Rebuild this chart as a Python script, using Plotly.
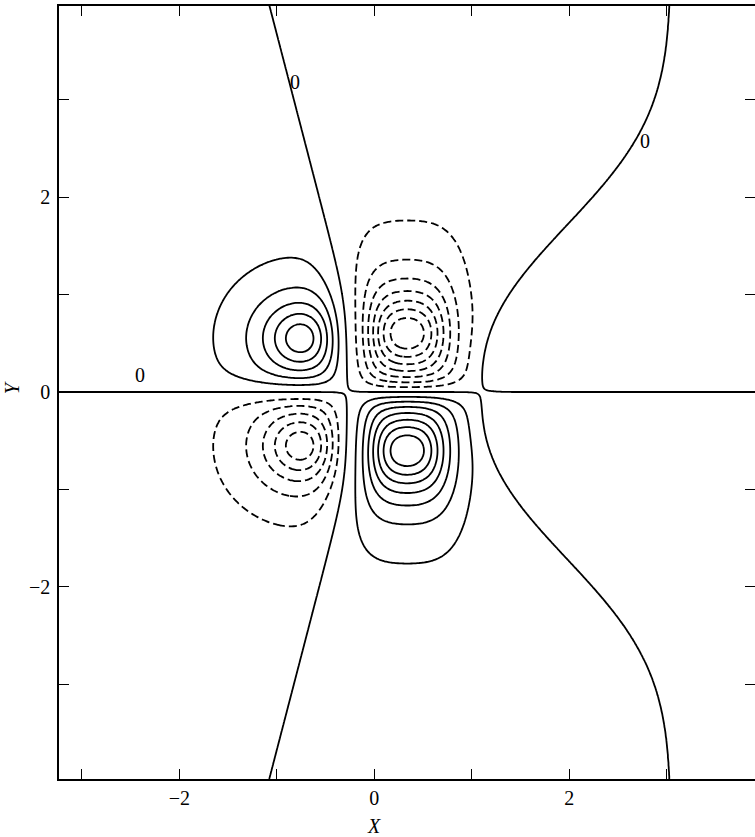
import numpy as np
import plotly.graph_objects as go

# ---- values -----------------------------------------------------------
# two lobe envelopes (|y| symmetric, field antisymmetric in y)
lobe_names = ["middle", "left"]
lobe_x = [0.33, -0.74]
lobe_y = [0.60, 0.55]
lobe_amp = [7.95, 5.85]
lobe_ax = [0.54, 0.415]     # quadratic width in x
lobe_bx = [0.454, 100.0]    # quartic width in x
lobe_ay = [0.44, 0.385]     # quadratic width in |y|

# zero branches (x position as a function of |y|)
left_x0, left_slope, left_knee, left_soft = -0.28, 0.26, 0.90, 0.2
right_x0, right_rise, right_scale, right_pow = 1.10, 1.94, 2.10, 2.5

# transition widths across y = 0 and across the two branches
shear_width, left_width, blend_width, right_width = 0.15, 0.20, 0.15, 0.12

# small saddle bias (left saddle positive, right saddle negative)
saddle_x = [-0.28, 1.10]
saddle_bias = [0.03, -0.03]
saddle_size = 0.15

# contour levels
level_step = 1.0
pos_start, pos_end = 0.0, 9.0
neg_start, neg_end = -9.0, -1.0

# zero labels
label_x = [-0.81, 2.78, -2.40]
label_y = [3.18, 2.58, 0.17]
label_text = ["0", "0", "0"]

# axes
tick_vals = [-3, -2, -1, 0, 1, 2, 3]
tick_text = ["", "\u22122", "", "0", "", "2", ""]
x_range = [-3.235, 3.905]
y_range = [-3.97, 3.96]

# ---- field --------------------------------------------------------------
xs = np.linspace(-3.4, 4.1, 380)
ys = np.linspace(-4.1, 4.1, 420)
X, Y = np.meshgrid(xs, ys)
A = np.abs(Y)

L = left_x0 - left_slope * left_soft * np.log1p(np.exp((A - left_knee) / left_soft))
R = right_x0 + right_rise * (1 - np.exp(-(A / right_scale) ** right_pow))


def envelope(i):
    dx = X - lobe_x[i]
    dy = A - lobe_y[i]
    q = (dx / lobe_ax[i]) ** 2 + (dx / lobe_bx[i]) ** 4 + (dy / lobe_ay[i]) ** 2
    return lobe_amp[i] / (1 + q)


Em = envelope(0)
El = envelope(1)
w = 0.5 * (1 + np.tanh((X - L) / blend_width))
E = (1 - w) * El + w * Em
Z = -np.tanh(Y / shear_width) * np.tanh((X - L) / left_width) * np.tanh((R - X) / right_width) * E
for sx, sb in zip(saddle_x, saddle_bias):
    Z = Z + sb * np.exp(-((X - sx) ** 2 + Y ** 2) / saddle_size ** 2)
Z = np.round(Z, 4)

serif = "Liberation Serif, Times New Roman, DejaVu Serif, serif"
line_w = 1.8
fsize = 20

fig = go.Figure()
fig.add_trace(go.Contour(
    x=xs, y=ys, z=Z, showscale=False,
    contours=dict(start=pos_start, end=pos_end, size=level_step, coloring="none"),
    line=dict(color="black", width=line_w),
    hoverinfo="skip",
))
fig.add_trace(go.Contour(
    x=xs, y=ys, z=Z, showscale=False,
    contours=dict(start=neg_start, end=neg_end, size=level_step, coloring="none"),
    line=dict(color="black", width=line_w, dash="8px,4px"),
    hoverinfo="skip",
))

for lx, ly, lt in zip(label_x, label_y, label_text):
    fig.add_annotation(x=lx, y=ly, text=lt, showarrow=False,
                       xanchor="center", yanchor="middle",
                       font=dict(family=serif, size=fsize, color="black"))

# axis titles
fig.add_annotation(x=0, xref="x", y=-0.061, yref="paper", text="<i>X</i>",
                   xanchor="center", yanchor="middle", showarrow=False,
                   font=dict(family=serif, size=fsize, color="black"))
fig.add_annotation(x=-0.0675, xref="paper", y=0.04, yref="y", text="<i>Y</i>",
                   xanchor="center", yanchor="middle",
                   textangle=-90, showarrow=False,
                   font=dict(family=serif, size=fsize, color="black"))

axis_common = dict(
    tickmode="array", tickvals=tick_vals, ticktext=tick_text,
    ticks="inside", ticklen=10, tickwidth=1.3, tickcolor="black",
    showline=True, linecolor="black", linewidth=1.6, mirror="allticks",
    showgrid=False, zeroline=False, automargin=False,
    tickfont=dict(family=serif, size=fsize, color="black"),
)
fig.update_xaxes(range=x_range, ticklabelstandoff=0, **axis_common)
fig.update_yaxes(range=y_range, ticklabelstandoff=3, **axis_common)

fig.update_layout(
    width=755, height=837,
    margin=dict(l=59, r=0, t=6, b=58, autoexpand=False),
    paper_bgcolor="white", plot_bgcolor="white",
    showlegend=False,
    font=dict(family=serif),
)
fig.write_html("out.html", config={"displayModeBar": False},
               post_script="document.body.style.margin='0px';")
